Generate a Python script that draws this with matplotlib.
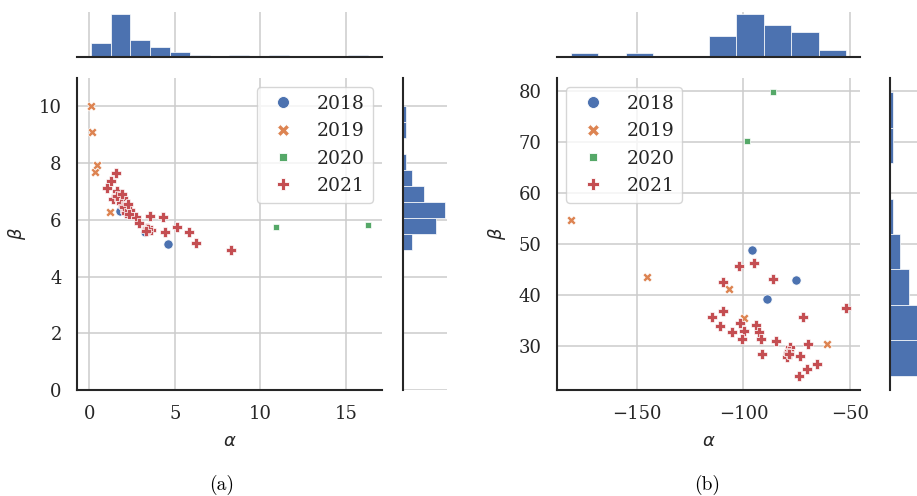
import numpy as np
import matplotlib
matplotlib.use("Agg")
import matplotlib.pyplot as plt
from matplotlib.lines import Line2D

# ---------------- data: panel (a) ----------------
years = ["2018", "2019", "2020", "2021"]

a_alpha_2018 = [1.8, 3.25, 4.6]
a_beta_2018 = [6.3, 5.57, 5.15]
a_alpha_2019 = [0.1, 0.16, 0.33, 0.45, 1.23]
a_beta_2019 = [10.0, 9.1, 7.68, 7.93, 6.27]
a_alpha_2020 = [10.9, 16.3]
a_beta_2020 = [5.74, 5.8]
a_alpha_2021 = [1.58, 1.27, 1.07, 1.62, 1.38, 1.77, 2.0, 2.2, 2.1, 2.36,
                2.75, 3.53, 4.3, 2.92, 3.37, 3.62, 4.44, 5.13, 5.81, 6.22,
                8.29, 1.65, 1.85, 1.95, 2.05, 2.15, 2.3, 1.9, 2.25, 3.45, 3.3]
a_beta_2021 = [7.66, 7.36, 7.12, 7.0, 6.73, 6.73, 6.77, 6.42, 6.3, 6.33,
               6.1, 6.15, 6.09, 5.89, 5.71, 5.65, 5.56, 5.74, 5.56, 5.18,
               4.92, 6.85, 6.6, 6.5, 6.45, 6.25, 6.2, 6.9, 6.55, 5.68, 5.62]

# ---------------- data: panel (b) ----------------
b_alpha_2018 = [-96.1, -75.3, -89.1]
b_beta_2018 = [48.7, 42.8, 39.25]
b_alpha_2019 = [-180.8, -145.3, -106.6, -99.7, -60.9]
b_beta_2019 = [54.6, 43.5, 41.1, 35.5, 30.3]
b_alpha_2020 = [-86.2, -98.4]
b_beta_2020 = [79.7, 70.1]
b_alpha_2021 = [-101.9, -94.9, -86.4, -109.7, -109.4, -114.8, -110.9, -105.5,
                -101.6, -99.7, -100.8, -94.1, -92.5, -91.9, -91.4, -84.7,
                -78.1, -78.5, -79.4, -73.4, -72.2, -70.0, -70.3, -73.8,
                -65.6, -51.9, -79.0, -78.8]
b_beta_2021 = [45.7, 46.3, 43.1, 42.4, 36.9, 35.6, 33.9, 32.6, 34.4, 32.8,
               31.3, 34.1, 32.6, 31.3, 28.4, 31.0, 29.7, 29.0, 27.7, 28.0,
               35.7, 30.3, 25.5, 24.1, 26.5, 37.3, 28.6, 28.3]

a_xticks = [0, 5, 10, 15]
a_yticks = [0, 2, 4, 6, 8, 10]
b_xticks = [-150, -100, -50]
b_yticks = [30, 40, 50, 60, 70, 80]

# ---------------- style ----------------
TEXT = "#262626"
GRID = "#cccccc"
HIST = "#4C72B0"
colors = ["#4C72B0", "#DD8452", "#55A868", "#C44E52"]
markers = ["o", "X", (4, 0, 45), "P"]

plt.rcParams.update({
    "font.family": ["DejaVu Serif"],
    "font.size": 13,
    "text.color": TEXT,
    "axes.labelcolor": TEXT,
    "xtick.color": TEXT,
    "ytick.color": TEXT,
})

W, H = 917, 496
fig = plt.figure(figsize=(W / 100, H / 100), dpi=100)


def box(l, t, r, b):
    return [l / W, 1 - b / H, (r - l) / W, (b - t) / H]


def style_axes(ax, keep):
    for side in ["left", "right", "top", "bottom"]:
        sp = ax.spines[side]
        if side in keep:
            sp.set_color(TEXT)
            sp.set_linewidth(1.5)
        else:
            sp.set_visible(False)
    ax.set_axisbelow(True)
    ax.tick_params(length=0, pad=11, labelsize=13)


def joint_panel(main_box, top_box, right_box, groups, xticks, yticks,
                ylim, xbins, ybins, legend_loc):
    ax = fig.add_axes(box(*main_box))
    axt = fig.add_axes(box(*top_box), sharex=ax)
    axr = fig.add_axes(box(*right_box), sharey=ax)

    for (xs, ys), c, m in zip(groups, colors, markers):
        ax.scatter(xs, ys, s=44, c=c, marker=m, edgecolors="white",
                   linewidths=0.5, zorder=3)

    all_x = np.concatenate([g[0] for g in groups])
    all_y = np.concatenate([g[1] for g in groups])
    axt.hist(all_x, bins=xbins, color=HIST, edgecolor="white", linewidth=0.5)
    axr.hist(all_y, bins=ybins, color=HIST, edgecolor="white", linewidth=0.5,
             orientation="horizontal")

    style_axes(ax, ["left", "bottom"])
    style_axes(axt, ["bottom"])
    style_axes(axr, ["left"])

    ax.grid(True, color=GRID, linewidth=1.1)
    axt.grid(True, axis="x", color=GRID, linewidth=1.1)
    axt.grid(False, axis="y")
    axr.grid(True, axis="y", color=GRID, linewidth=1.1)
    axr.grid(False, axis="x")
    axt.tick_params(labelbottom=False, labelleft=False)
    axr.tick_params(labelbottom=False, labelleft=False)

    ax.set_xticks(xticks)
    ax.set_yticks(yticks)
    if ylim is not None:
        ax.set_ylim(*ylim)
    ax.set_xlabel(r"$\alpha$", fontsize=13, labelpad=6)
    ax.set_ylabel(r"$\beta$", fontsize=13, labelpad=8)

    handles = [Line2D([], [], linestyle="none", marker=m, color=c,
                      markeredgecolor="white", markeredgewidth=0.6,
                      markersize=8.6)
               for c, m in zip(colors, markers)]
    leg = ax.legend(handles, years, loc=legend_loc, fontsize=13.5,
                    frameon=True, framealpha=0.8, edgecolor=GRID)
    leg.get_frame().set_linewidth(1.0)
    leg.set_zorder(5)
    return ax


groups_a = [(a_alpha_2018, a_beta_2018), (a_alpha_2019, a_beta_2019),
            (a_alpha_2020, a_beta_2020), (a_alpha_2021, a_beta_2021)]
groups_b = [(b_alpha_2018, b_beta_2018), (b_alpha_2019, b_beta_2019),
            (b_alpha_2020, b_beta_2020), (b_alpha_2021, b_beta_2021)]

joint_panel((77, 78, 382, 390), (77, 12, 382, 57), (403, 78, 447, 390),
            groups_a, a_xticks, a_yticks, (0, 11), 14, 9, "upper right")
joint_panel((557, 78, 860, 390), (557, 12, 860, 57), (890, 78, 934, 390),
            groups_b, b_xticks, b_yticks, None, 10, 8, "upper left")

fig.text(222 / W, 1 - 485 / H, "(a)", family="cmr10", fontsize=14,
         ha="center", va="center", color="black")
fig.text(707 / W, 1 - 485 / H, "(b)", family="cmr10", fontsize=14,
         ha="center", va="center", color="black")

fig.savefig("out.png", dpi=100)
